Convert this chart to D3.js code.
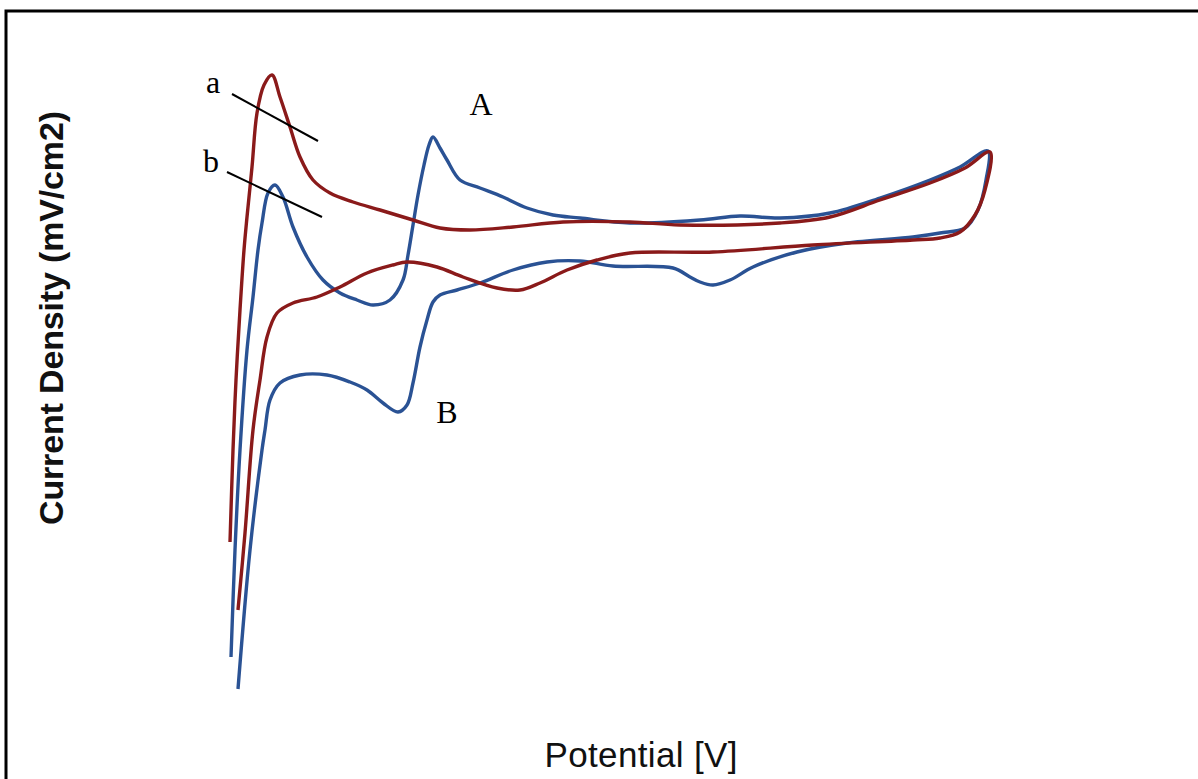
<!DOCTYPE html>
<html>
<head>
<meta charset="utf-8">
<script src="https://cdn.jsdelivr.net/npm/d3@7"></script>
<style>
  html, body { margin: 0; padding: 0; background: #fff; }
  svg { display: block; }
</style>
</head>
<body>
<div class="canvas"></div>
<script>
// curve a (red) - potential / current density, arbitrary units
const curveA = [
  [0, 15.8], [0.3, 25.0], [0.6, 32.0], [1.0, 39.0], [1.4, 45.0], [1.7, 48.3],
  [2.2, 53.3], [2.7, 58.7], [3.4, 61.5], [4.2, 62.5], [5.0, 60.3], [6.0, 57.3],
  [7.0, 54.3], [8.3, 52.0], [10.0, 50.7], [12.3, 49.8], [15.0, 49.0], [18.3, 48.0],
  [21.0, 47.2], [24.0, 47.0], [28.3, 47.3], [33.3, 47.8], [40.0, 47.8], [45.0, 47.5],
  [55.0, 47.7], [60.0, 48.3], [65.0, 50.0], [70.0, 51.7], [73.5, 53.2], [76.0, 54.8],
  [75.5, 51.0], [74.5, 48.5], [73.0, 46.8], [71.0, 46.2], [68.3, 46.0], [58.3, 45.5],
  [48.3, 44.8], [40.0, 44.7], [36.7, 44.0], [33.7, 43.0], [31.0, 41.7], [29.0, 41.0],
  [26.7, 41.2], [23.3, 42.3], [20.7, 43.3], [17.7, 43.8], [16.3, 43.5], [13.7, 42.7],
  [11.0, 41.3], [8.7, 40.3], [6.3, 39.7], [4.7, 38.7], [3.7, 36.3], [3.0, 32.0],
  [2.3, 27.0], [1.5, 16.7], [0.8, 9.0]
]

// curve b (blue)
const curveB = [
  [0.1, 4.3], [0.5, 15.0], [1.0, 25.0], [1.7, 35.0], [2.3, 40.3], [2.8, 45.0],
  [3.2, 47.7], [3.8, 50.7], [4.5, 51.5], [5.3, 50.3], [6.3, 47.3], [7.7, 44.3],
  [9.3, 42.0], [11.0, 40.7], [12.7, 40.0], [14.3, 39.5], [16.0, 40.0], [17.3, 42.0],
  [17.8, 44.5], [18.3, 47.5], [18.8, 50.5], [19.4, 53.5], [19.9, 55.5], [20.3, 56.3],
  [21.0, 55.2], [21.7, 54.0], [23.0, 52.0], [25.0, 51.2], [27.3, 50.3], [29.7, 49.2],
  [32.3, 48.5], [35.0, 48.2], [40.0, 47.7], [47.0, 48.0], [51.0, 48.4], [55.0, 48.2],
  [60.0, 48.7], [65.0, 50.2], [70.0, 52.0], [73.0, 53.3], [75.8, 54.9], [75.6, 52.0],
  [74.8, 49.0], [73.5, 47.2], [71.0, 46.7], [68.3, 46.3], [61.7, 45.7], [56.7, 44.8],
  [52.3, 43.3], [50.0, 42.0], [48.3, 41.5], [47.0, 41.8], [46.0, 42.3], [44.3, 43.2],
  [38.3, 43.4], [35.0, 43.9], [31.7, 43.8], [28.3, 43.0], [25.0, 41.7], [22.7, 41.0],
  [21.0, 40.5], [20.3, 39.8], [19.7, 38.0], [19.0, 35.3], [18.3, 31.7], [17.7, 29.5],
  [16.8, 28.8], [15.3, 29.7], [13.7, 31.0], [12.0, 31.8], [9.7, 32.5], [7.0, 32.5],
  [5.0, 31.7], [4.0, 30.0], [3.5, 27.0], [3.2, 25.0], [2.0, 15.0], [0.8, 1.1]
]

// annotations (data units)
const labels = [
  { text: 'a', at: [-1.7, 60.7] },
  { text: 'b', at: [-1.9, 52.8] },
  { text: 'A', at: [25.1, 58.5] },
  { text: 'B', at: [21.7, 27.7] },
]
const leaders = [
  [[0.2, 60.6], [8.8, 55.9]],
  [[-0.3, 52.8], [9.2, 48.3]],
]

const dims = { width: 1198, height: 779 }

const svg = d3
  .select('.canvas')
  .append('svg')
  .attr('width', dims.width)
  .attr('height', dims.height)

// no ticks in the original, only the scales
const x = d3.scaleLinear().domain([0, 76]).range([230, 990])
const y = d3.scaleLinear().domain([0, 64]).range([700, 60])

// frame (cropped at right and bottom)
svg
  .append('path')
  .attr('d', `M6,${dims.height} V11 H${dims.width}`)
  .attr('fill', 'none')
  .attr('stroke', '#000')
  .attr('stroke-width', 3)

const line = d3
  .line()
  .x((d) => x(d[0]))
  .y((d) => y(d[1]))
  .curve(d3.curveCatmullRom.alpha(0.5))

svg
  .append('path')
  .datum(curveB)
  .attr('d', line)
  .attr('fill', 'none')
  .attr('stroke', '#2a5294')
  .attr('stroke-width', 3.4)

svg
  .append('path')
  .datum(curveA)
  .attr('d', line)
  .attr('fill', 'none')
  .attr('stroke', '#8a1a1a')
  .attr('stroke-width', 3.4)

// leader lines for a / b
svg
  .selectAll('.leader')
  .data(leaders)
  .enter()
  .append('line')
  .attr('class', 'leader')
  .attr('x1', (d) => x(d[0][0]))
  .attr('y1', (d) => y(d[0][1]))
  .attr('x2', (d) => x(d[1][0]))
  .attr('y2', (d) => y(d[1][1]))
  .attr('stroke', '#000')
  .attr('stroke-width', 2)

svg
  .selectAll('.lbl')
  .data(labels)
  .enter()
  .append('text')
  .attr('class', 'lbl')
  .attr('x', (d) => x(d.at[0]))
  .attr('y', (d) => y(d.at[1]))
  .attr('text-anchor', 'middle')
  .attr('font-family', '"Liberation Serif", "DejaVu Serif", serif')
  .attr('font-size', 32)
  .attr('fill', '#000')
  .text((d) => d.text)

// axis titles
svg
  .append('text')
  .attr('x', 641)
  .attr('y', 767)
  .attr('text-anchor', 'middle')
  .attr('font-family', '"Liberation Sans", Arial, sans-serif')
  .attr('font-size', 35)
  .attr('textLength', 193)
  .attr('fill', '#111')
  .text('Potential [V]')

svg
  .append('text')
  .attr('transform', 'translate(63, 318) rotate(-90)')
  .attr('text-anchor', 'middle')
  .attr('font-family', '"Liberation Sans", Arial, sans-serif')
  .attr('font-size', 34)
  .attr('font-weight', 'bold')
  .attr('textLength', 414)
  .attr('fill', '#111')
  .text('Current Density (mV/cm2)')
</script>
</body>
</html>
